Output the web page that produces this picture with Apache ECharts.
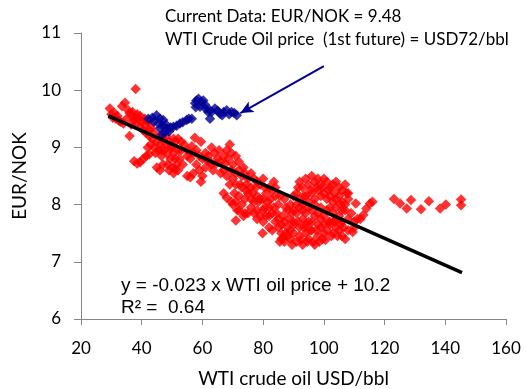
<!DOCTYPE html>
<html>
<head>
<meta charset="utf-8">
<script src="https://cdn.jsdelivr.net/npm/echarts@6/dist/echarts.min.js"></script>
<style>
  html, body { margin: 0; padding: 0; background: #fff; }
  #chart { width: 527px; height: 389px; }
</style>
</head>
<body>
<div id="chart"></div>
<script>
// red: history (WTI USD/bbl, EUR/NOK)
const redUpper = [
  [29.5, 9.68], [30, 9.58], [30.5, 9.52], [31.5, 9.5], [32.5, 9.47], [33.5, 9.72], [34.5, 9.78],
  [33, 9.45], [34, 9.42], [35, 9.5], [36, 9.6], [37, 9.55], [37.5, 9.48], [38.5, 9.58], [39, 9.5],
  [40, 9.45], [41, 9.4], [39.5, 9.35], [38, 9.4], [36.5, 9.4], [42, 9.45], [43, 9.35], [40.5, 9.3],
  [36, 9.2], [38, 10.02], [42.5, 9.2], [43.5, 9.15], [44, 9.25], [45, 9.1], [46, 9.05], [47, 9.15],
  [45.5, 8.95], [44.5, 8.9], [46.5, 8.85], [47.5, 8.95], [48, 9.05], [49, 9.1], [50, 9.0], [51, 9.1],
  [52, 9.15], [50.5, 8.9], [49.5, 8.8], [48.5, 8.7], [50, 8.65], [51.5, 8.7], [52.5, 8.8], [53, 8.95],
  [54, 9.05], [55, 8.95], [53.5, 8.7], [52, 8.6], [51, 8.62], [47, 8.7], [45, 8.65], [46, 8.6],
  [31, 9.6], [32, 9.55], [35.5, 9.65], [37, 9.62], [38, 9.52], [39.5, 9.55], [41, 9.5], [42.5, 9.3],
  [41.5, 9.25], [43, 9.05], [44, 9.0], [46, 9.2], [48, 9.2], [49.5, 9.0], [50.5, 9.15], [51, 8.8],
  [52, 8.95], [53, 9.1], [48.5, 8.88], [49, 8.6], [50.5, 8.55], [46.5, 8.95], [42, 9.0]
];
const redLowBranch = [
  [37.5, 8.76], [38.5, 8.72], [39.5, 8.74], [40.5, 8.8], [41.5, 8.85], [42.5, 8.88]
];
const redMid = [
  [55, 8.85], [56, 8.8], [57, 8.9], [58, 8.95], [59, 8.85], [60, 8.8], [57.5, 9.17], [59.5, 9.1],
  [56.5, 9.02], [61, 8.9], [62, 8.85], [58, 8.7], [59, 8.6], [60, 8.5], [59.5, 8.4], [56, 8.48],
  [55, 8.5], [57, 8.55], [61, 8.65], [62.5, 8.75], [63, 9.0], [64, 8.9], [65, 8.8], [63.5, 8.6],
  [66, 8.75], [67, 8.85], [68, 8.95], [69, 9.05], [68.5, 8.8], [70, 8.7], [71, 8.85], [72, 8.75],
  [66, 8.55], [67, 8.6], [68, 8.5], [70, 8.45], [71, 8.55], [72, 8.6], [73, 8.5], [74, 8.55],
  [75, 8.45], [69, 8.35], [71, 8.35], [73, 8.3], [68, 8.12], [69.5, 8.05], [70.5, 8.2], [72, 8.15],
  [71.5, 7.9], [71, 7.72], [73, 8.0], [74, 8.1], [75, 8.2], [74, 7.85], [76, 8.3], [77, 8.45],
  [78, 8.4], [79, 8.35], [80, 8.45], [72, 7.9], [73.5, 7.8], [75, 7.85], [76, 7.95], [77, 8.05],
  [78, 7.9], [79, 7.8], [80, 8.1], [81, 8.2], [82, 8.3], [83, 8.25], [84, 8.15], [85, 8.0],
  [78, 8.15], [76, 8.1], [80, 7.7], [82, 7.95], [83, 7.85], [84, 7.7], [85, 7.6], [86, 7.5],
  [86, 7.4], [87, 7.35], [88, 7.45], [89, 7.55], [90, 7.7], [86.5, 7.8], [88, 7.9], [89, 8.0],
  [87, 8.1], [79.8, 7.5], [82, 7.6], [85.5, 7.35], [86.5, 7.42], [87.5, 7.5],
  [70, 8.0], [71, 8.05], [72.5, 8.35], [74.5, 8.35], [76.5, 8.2], [77, 7.85], [78.5, 8.05],
  [80.5, 7.95], [81, 7.8], [82.5, 8.1], [83.5, 7.95], [84.5, 7.85], [85.5, 8.15], [86, 7.65],
  [87, 7.7], [88.5, 7.75], [89.5, 7.85], [87.5, 7.95], [85, 7.75], [83, 7.55], [80, 7.9],
  [61.5, 8.78], [63, 8.7], [64.5, 8.72], [65.5, 8.95], [67.5, 8.72], [69.5, 8.9], [69.5, 8.6],
  [73.5, 8.65], [74.5, 8.25], [76, 8.55], [77.5, 8.3], [79, 8.1], [80.5, 8.3], [81.5, 8.05],
  [83.5, 8.4], [84, 8.3], [67, 8.2], [78, 7.75], [82, 7.8]
];
const redHigh = [
  [92, 8.4], [93, 8.3], [94, 8.45], [95, 8.35], [96, 8.5], [97, 8.4], [98, 8.45], [99, 8.35],
  [100, 8.45], [101, 8.4], [102, 8.3], [103, 8.35], [104, 8.4], [105, 8.3], [106, 8.25], [107, 8.35],
  [108, 8.2], [90, 8.15], [91, 8.2], [92, 8.1], [93, 8.0], [94, 8.15], [95, 8.05], [96, 8.2],
  [97, 8.1], [98, 8.25], [99, 8.15], [100, 8.2], [101, 8.1], [102, 8.15], [103, 8.05], [104, 8.1],
  [105, 8.15], [106, 8.05], [107, 8.0], [108, 8.1], [90, 7.9], [91, 7.85], [92, 7.95], [93, 7.75],
  [94, 7.85], [95, 7.7], [96, 7.9], [97, 7.8], [98, 7.85], [99, 7.75], [100, 7.8], [101, 7.9],
  [102, 7.7], [103, 7.85], [104, 7.75], [105, 7.8], [106, 7.7], [107, 7.9], [108, 7.75], [109, 7.85],
  [88, 7.6], [89, 7.4], [90, 7.5], [91, 7.35], [92, 7.45], [93, 7.3], [94, 7.5], [95, 7.4],
  [96, 7.55], [97, 7.3], [98, 7.45], [99, 7.6], [100, 7.5], [101, 7.55], [102, 7.65], [103, 7.5],
  [104, 7.6], [105, 7.55], [106, 7.45], [107, 7.4], [108, 7.55], [90, 7.65], [92, 7.6], [94, 7.65],
  [96, 7.7], [98, 7.65], [100, 7.65], [91, 8.0], [97, 8.0], [99, 7.95], [102, 7.95], [104, 7.95],
  [106, 7.9], [110, 7.6], [109.5, 7.52], [110, 7.7], [111, 7.75], [110.5, 8.02], [113, 7.82],
  [114, 7.93], [115.2, 8.02], [116, 8.05], [112, 7.75],
  [91.5, 8.3], [93.5, 8.15], [95.5, 8.25], [97.5, 8.3], [99.5, 8.3], [101.5, 8.25], [103.5, 8.2],
  [105.5, 8.0], [107.5, 8.2], [91.5, 7.7], [93.5, 7.6], [95.5, 7.55], [97.5, 7.55], [99.5, 7.4],
  [101.5, 7.7], [103.5, 7.7], [105.5, 7.65], [96.5, 7.35], [94.5, 7.35], [92.5, 7.38], [98.5, 7.35],
  [100.5, 7.38], [102.5, 7.45], [89.5, 7.3], [104.5, 7.45], [106.5, 7.6], [95, 7.95], [93, 7.9]
];
const redTail = [
  [123.1, 8.1], [125.1, 8.02], [127.3, 7.93], [128.7, 8.08], [132, 7.92], [134.6, 8.06],
  [138.3, 7.93], [140.2, 8.0], [145.2, 8.09], [145.2, 7.99]
];
// blue: recent data
const bluePoints = [
  [42.2, 9.5], [43.5, 9.52], [44.9, 9.56], [46, 9.5], [47.1, 9.48], [46, 9.33], [47.7, 9.27],
  [48.5, 9.32], [49.5, 9.35], [50.4, 9.36], [51.5, 9.38], [52.6, 9.42], [53.5, 9.44], [54.8, 9.48],
  [56.5, 9.5], [57.6, 9.77], [58.7, 9.85], [59.5, 9.8], [60.3, 9.82], [59.2, 9.71], [61, 9.68],
  [61.9, 9.62], [62.5, 9.5], [63, 9.62], [64.1, 9.68], [65, 9.64], [65.8, 9.59], [67, 9.62],
  [68, 9.65], [69.6, 9.62], [70.5, 9.6], [71.3, 9.56],
  [44, 9.45], [45.5, 9.42], [47, 9.38], [48, 9.4], [46.8, 9.22], [49, 9.28], [58, 9.82],
  [57.8, 9.7], [60.8, 9.75], [62.3, 9.66], [66.5, 9.56], [68.8, 9.58], [55.5, 9.5]
];
// fitted line ends as drawn (y = -0.023 x + 10.2)
const trendLine = [[29, 9.55], [145.5, 6.81]];
// arrow pointing at the latest observation
const arrowFrom = [100, 10.42];
const arrowTo = [72.5, 9.6];

const xTicks = { min: 20, max: 160, interval: 20 };
const yTicks = { min: 6, max: 11, interval: 1 };

const chart = echarts.init(document.getElementById('chart'), null, { renderer: 'canvas' });
const labelFont = 'Lato';

chart.setOption({
  animation: false,
  backgroundColor: '#fff',
  grid: { left: 81, right: 21, top: 33, bottom: 70, containLabel: false, outerBoundsMode: 'none' },
  xAxis: {
    type: 'value',
    min: xTicks.min, max: xTicks.max, interval: xTicks.interval,
    name: 'WTI crude oil USD/bbl',
    nameLocation: 'middle',
    nameGap: 50,
    nameTextStyle: { fontFamily: labelFont, fontSize: 19, color: '#000' },
    axisLine: { lineStyle: { color: '#868686', width: 1 } },
    axisTick: { show: true, length: 6, lineStyle: { color: '#868686' } },
    axisLabel: { fontFamily: labelFont, fontSize: 17, color: '#000', margin: 21 },
    splitLine: { show: false }
  },
  yAxis: {
    type: 'value',
    min: yTicks.min, max: yTicks.max, interval: yTicks.interval,
    name: 'EUR/NOK',
    nameLocation: 'middle',
    nameGap: 52,
    nameRotate: 90,
    nameTextStyle: { fontFamily: labelFont, fontSize: 19, color: '#000' },
    axisLine: { show: true, lineStyle: { color: '#868686', width: 1 } },
    axisTick: { show: true, length: 7, lineStyle: { color: '#868686' } },
    axisLabel: { fontFamily: labelFont, fontSize: 17, color: '#000', margin: 20 },
    splitLine: { show: false }
  },
  series: [
    {
      type: 'scatter',
      symbol: 'diamond',
      symbolSize: 10.5,
      itemStyle: { color: '#ff0000' },
      data: [].concat(redUpper, redLowBranch, redMid, redHigh, redTail),
      z: 2
    },
    {
      type: 'scatter',
      symbol: 'diamond',
      symbolSize: 10.5,
      itemStyle: { color: '#000096' },
      data: bluePoints,
      z: 3,
      markLine: {
        silent: true,
        symbol: ['none', 'arrow'],
        symbolSize: [9, 13],
        label: { show: false },
        lineStyle: { color: '#000096', width: 2, type: 'solid' },
        data: [[{ coord: arrowFrom }, { coord: arrowTo }]]
      }
    },
    {
      type: 'line',
      data: trendLine,
      symbol: 'none',
      lineStyle: { color: '#000', width: 3.5 },
      z: 4
    }
  ],
  graphic: [
    {
      type: 'text', left: 165, top: 8,
      style: { text: 'Current Data: EUR/NOK = 9.48', fontFamily: labelFont, fontSize: 17, fill: '#000' }
    },
    {
      type: 'text', left: 165, top: 31,
      style: { text: 'WTI Crude Oil price  (1st future) = USD72/bbl', fontFamily: labelFont, fontSize: 17, fill: '#000' }
    },
    {
      type: 'text', left: 121, top: 276,
      style: { text: 'y = -0.023 x WTI oil price + 10.2', fontFamily: 'Liberation Sans', fontSize: 19, fill: '#000' }
    },
    {
      type: 'text', left: 121, top: 298,
      style: { text: 'R² =  0.64', fontFamily: 'Liberation Sans', fontSize: 19, fill: '#000' }
    }
  ]
});
</script>
</body>
</html>
